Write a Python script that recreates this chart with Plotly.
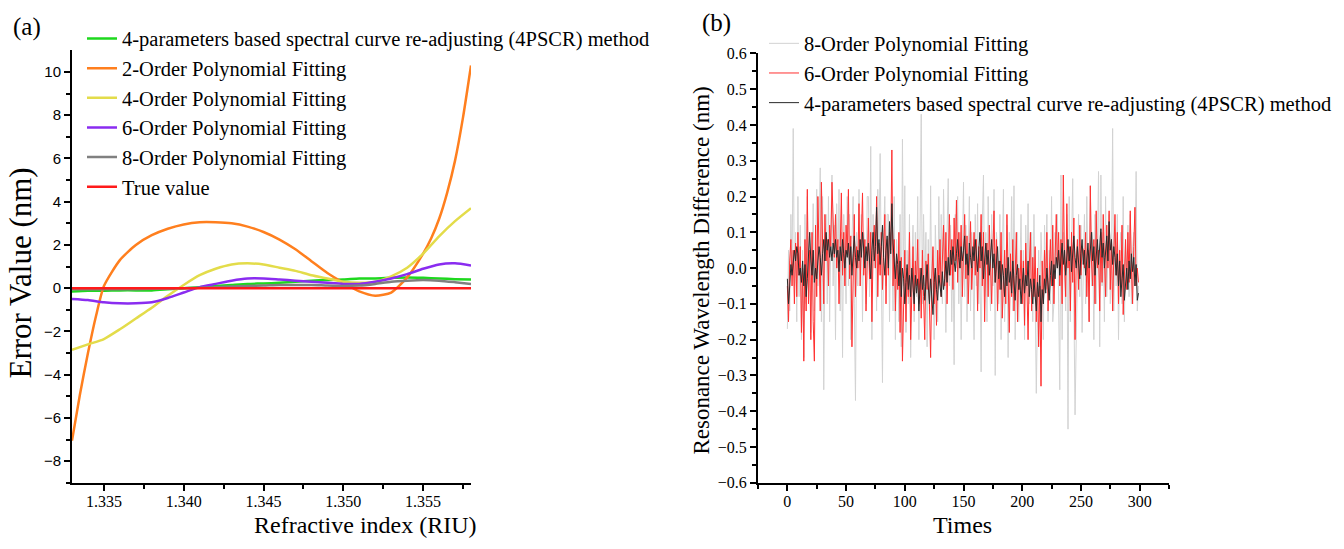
import plotly.graph_objects as go

# ---------------- Panel (a) data ----------------
ri = [1.333, 1.334, 1.335, 1.336, 1.337, 1.338, 1.339, 1.340, 1.341, 1.342, 1.343,
      1.344, 1.345, 1.346, 1.347, 1.348, 1.349, 1.350, 1.351, 1.352, 1.353, 1.354,
      1.355, 1.356, 1.357, 1.358]

err_4pscr = [-0.15, -0.12, -0.12, -0.10, -0.10, -0.10, -0.05, 0.00, 0.05, 0.10, 0.15,
             0.20, 0.22, 0.25, 0.30, 0.35, 0.38, 0.40, 0.45, 0.45, 0.48, 0.50,
             0.48, 0.45, 0.42, 0.40]
err_2order_x = [1.333, 1.3335, 1.334, 1.3345, 1.335, 1.336, 1.337, 1.338, 1.339,
                1.340, 1.341, 1.342, 1.343, 1.344, 1.345, 1.346, 1.347, 1.348, 1.349,
                1.350, 1.351, 1.352, 1.353, 1.354, 1.355, 1.3555, 1.356, 1.3565,
                1.357, 1.3575, 1.358]
err_2order = [-7.05, -4.9, -3.0, -1.3, 0.1, 1.3, 2.0, 2.45, 2.75,
              2.95, 3.05, 3.05, 3.0, 2.85, 2.6, 2.25, 1.8, 1.25, 0.7,
              0.25, -0.15, -0.35, -0.2, 0.5, 1.6, 2.3, 3.2, 4.4,
              5.9, 7.9, 10.3]
err_4order = [-2.85, -2.6, -2.35, -1.9, -1.4, -0.9, -0.35, 0.15, 0.6, 0.9, 1.1,
              1.15, 1.1, 0.95, 0.8, 0.6, 0.45, 0.3, 0.25, 0.3, 0.55, 0.95,
              1.6, 2.4, 3.1, 3.7]
err_6order = [-0.5, -0.55, -0.65, -0.7, -0.7, -0.65, -0.45, -0.2, 0.05, 0.2, 0.35,
              0.45, 0.45, 0.4, 0.35, 0.3, 0.25, 0.2, 0.2, 0.3, 0.45, 0.65,
              0.9, 1.1, 1.15, 1.05]
err_8order = [-0.05, -0.05, -0.05, -0.05, -0.05, -0.03, -0.02, 0.0, 0.02, 0.05, 0.08,
              0.1, 0.12, 0.15, 0.15, 0.15, 0.12, 0.1, 0.12, 0.2, 0.3, 0.35,
              0.38, 0.35, 0.28, 0.2]
err_true = [0.0] * len(ri)

# ---------------- Panel (b) data ----------------
times = list(range(300))

diff_8order = [
    -0.17, 0.05, -0.12, 0.15, 0.0, 0.39, -0.05, 0.1, -0.15, 0.2,
    -0.08, 0.12, -0.2, 0.05, -0.25, 0.15, -0.1, 0.2, -0.02, 0.1,
    -0.18, 0.08, 0.18, -0.12, 0.05, 0.22, -0.05, 0.1, 0.28, -0.15,
    0.2, -0.34, 0.05, 0.15, -0.1, 0.2, -0.15, 0.1, 0.26, -0.05,
    0.12, -0.2, 0.18, 0.0, 0.22, -0.12, 0.1, -0.25, 0.15, 0.05,
    -0.1, 0.2, -0.05, 0.15, -0.2, 0.08, 0.2, -0.1, -0.37, 0.1,
    -0.05, 0.22, 0.0, 0.15, -0.15, 0.1, 0.05, -0.1, 0.2, 0.2,
    -0.08, 0.34, -0.2, 0.15, 0.0, 0.1, -0.12, 0.22, 0.05, 0.32,
    -0.1, -0.32, 0.1, 0.2, -0.05, 0.15, 0.15, -0.15, 0.1, 0.05,
    -0.12, 0.2, -0.2, 0.08, 0.0, -0.15, 0.15, -0.22, 0.36, -0.05,
    0.23, -0.18, 0.05, -0.1, 0.15, -0.25, 0.0, 0.12, -0.15, 0.1,
    -0.08, 0.2, -0.2, 0.05, 0.43, -0.1, 0.15, -0.05, 0.1, -0.22,
    0.08, -0.12, 0.23, -0.1, 0.05, -0.2, 0.12, 0.0, -0.15, 0.2,
    -0.05, 0.15, -0.1, 0.22, 0.0, -0.18, 0.1, 0.25, -0.05, 0.12,
    -0.15, 0.08, -0.27, 0.15, 0.0, 0.2, -0.1, 0.1, -0.2, 0.05,
    0.24, -0.08, 0.12, -0.15, 0.05, 0.2, -0.12, 0.1, 0.0, -0.2,
    0.15, -0.05, 0.18, -0.1, 0.05, -0.29, 0.12, 0.26, -0.08, 0.1,
    -0.15, 0.2, 0.0, -0.12, 0.15, -0.05, 0.22, -0.3, 0.1, 0.05,
    -0.1, 0.15, -0.2, 0.05, 0.22, -0.15, 0.0, 0.12, -0.25, 0.1,
    -0.05, 0.2, -0.12, 0.23, -0.2, 0.05, 0.1, -0.15, 0.0, 0.15,
    -0.1, 0.05, -0.2, 0.12, -0.05, 0.18, -0.1, 0.0, 0.1, -0.15,
    0.15, -0.08, -0.35, -0.12, 0.05, -0.1, 0.1, 0.0, -0.2, 0.12,
    -0.05, 0.15, -0.15, 0.05, -0.1, 0.2, -0.15, -0.1, 0.1, 0.0,
    0.15, -0.1, -0.34, 0.26, -0.2, 0.1, 0.0, -0.12, 0.15, -0.45,
    0.2, -0.15, 0.05, 0.25, -0.1, -0.41, -0.2, 0.0, 0.15, -0.08,
    0.12, -0.18, 0.05, 0.15, -0.1, 0.2, 0.0, -0.15, 0.23, -0.05,
    0.1, -0.2, 0.15, -0.1, 0.05, 0.27, -0.22, 0.26, -0.05, 0.1,
    -0.15, 0.2, -0.08, 0.05, 0.15, -0.1, 0.0, 0.39, -0.12, 0.1,
    -0.05, 0.15, -0.2, 0.05, 0.1, -0.1, 0.2, -0.15, 0.05, 0.0,
    0.12, -0.08, 0.15, -0.1, 0.05, 0.1, -0.05, 0.27, -0.12, -0.05]

diff_6order = [
    -0.05, -0.15, 0.02, 0.08, -0.05, 0.05, -0.1, 0.07, -0.08, 0.1,
    -0.02, 0.06, -0.18, 0.0, -0.26, 0.08, -0.12, 0.22, -0.1, 0.05,
    -0.2, 0.1, -0.15, -0.26, 0.12, -0.08, 0.2, 0.0, -0.12, 0.24,
    0.05, -0.1, 0.15, 0.02, 0.08, -0.05, 0.12, 0.06, 0.24, 0.1,
    0.03, 0.15, 0.0, 0.08, -0.1, 0.05, 0.21, -0.02, 0.1, -0.05,
    0.12, 0.04, 0.22, -0.03, 0.09, -0.22, 0.02, 0.15, -0.08, 0.06,
    0.0, 0.18, -0.05, 0.1, 0.21, -0.02, 0.08, -0.12, 0.05, 0.14,
    -0.03, 0.1, -0.15, 0.05, 0.12, 0.0, 0.2, -0.08, 0.07, -0.02,
    0.1, -0.06, 0.05, 0.15, -0.1, 0.08, -0.02, 0.1, 0.05, 0.33,
    -0.05, 0.08, -0.12, 0.02, -0.06, 0.1, -0.18, 0.03, -0.26, -0.04,
    0.05, -0.15, 0.0, -0.08, 0.1, -0.2, -0.02, 0.06, -0.12, 0.02,
    -0.05, 0.08, -0.1, 0.0, -0.14, 0.05, -0.08, -0.2, 0.02, -0.06,
    0.04, -0.12, -0.25, -0.03, 0.06, -0.1, 0.0, -0.16, 0.05, -0.04,
    0.08, -0.08, 0.02, 0.12, -0.05, 0.1, -0.1, 0.04, 0.15, -0.02,
    0.08, -0.06, 0.14, 0.02, 0.19, -0.04, 0.1, 0.0, 0.12, -0.08,
    0.06, 0.15, -0.03, 0.09, -0.1, 0.05, 0.13, -0.06, 0.04, 0.1,
    -0.02, 0.08, -0.12, 0.06, 0.0, 0.15, -0.05, 0.1, -0.15, 0.03,
    0.07, -0.08, 0.12, 0.0, -0.1, 0.05, 0.16, -0.04, 0.08, -0.12,
    0.02, -0.06, 0.1, -0.14, 0.0, 0.05, -0.1, 0.15, -0.03, -0.18,
    0.04, -0.08, 0.08, -0.12, -0.02, 0.1, -0.15, 0.0, -0.06, 0.05,
    -0.1, 0.02, -0.16, 0.07, -0.05, -0.2, 0.0, 0.1, -0.12, 0.03,
    -0.08, 0.06, -0.15, 0.0, -0.22, -0.05, -0.33, 0.02, -0.1, 0.05,
    -0.06, 0.1, -0.12, 0.0, 0.08, -0.05, 0.12, -0.1, 0.04, 0.15,
    0.0, 0.1, -0.05, 0.08, -0.1, 0.26, 0.02, -0.08, 0.18, 0.0,
    0.06, -0.12, 0.1, -0.04, 0.14, -0.2, 0.02, 0.08, -0.06, 0.12,
    -0.02, 0.06, 0.05, 0.0, 0.1, -0.08, 0.05, -0.15, 0.23, 0.02,
    -0.05, 0.08, -0.1, 0.16, 0.0, 0.05, -0.12, 0.1, -0.04, 0.15,
    0.03, -0.08, 0.12, 0.0, 0.16, -0.06, 0.08, -0.12, 0.04, 0.15,
    -0.02, 0.1, -0.1, 0.05, -0.05, 0.12, -0.13, 0.02, 0.08, -0.06,
    0.1, -0.04, 0.16, 0.0, -0.1, 0.06, 0.17, -0.05, 0.0, -0.04]

diff_4pscr = [
    -0.03, -0.1, -0.05, 0.01, -0.02, 0.03, 0.05, 0.02, 0.06, 0.04,
    -0.02, 0.0, -0.04, 0.02, -0.05, 0.01, -0.08, -0.03, 0.03, 0.1,
    0.02, -0.02, 0.05, -0.04, 0.0, -0.03, 0.02, 0.06, 0.03, -0.02,
    0.04, 0.08, 0.02, 0.1, 0.05, 0.08, 0.03, 0.06, 0.02, 0.07,
    0.04, 0.08, 0.03, 0.05, -0.01, 0.06, 0.02, 0.08, 0.04, 0.0,
    0.05, 0.03, 0.07, 0.01, 0.06, -0.02, 0.04, 0.09, 0.03, 0.0,
    0.05, 0.02, 0.08, 0.03, 0.1, 0.04, 0.0, 0.06, 0.02, 0.07,
    0.03, -0.03, 0.05, 0.1, 0.02, 0.06, 0.17, 0.04, 0.08, 0.01,
    0.06, 0.12, 0.03, -0.02, 0.05, 0.09, 0.0, 0.13, 0.04, 0.18,
    0.07, 0.02, -0.03, 0.04, 0.01, -0.05, 0.02, -0.08, 0.0, -0.03,
    -0.1, -0.04, 0.01, -0.06, -0.02, -0.08, 0.0, -0.05, -0.1, -0.02,
    -0.07, -0.03, -0.12, -0.05, 0.0, -0.06, -0.02, -0.09, -0.04, 0.01,
    -0.05, -0.1, -0.03, -0.07, -0.13, -0.04, 0.0, -0.06, -0.09, -0.02,
    -0.05, -0.08, -0.01, -0.06, -0.03, 0.02, -0.04, 0.03, -0.02, 0.05,
    0.01, 0.06, 0.02, -0.01, 0.04, 0.08, 0.03, 0.0, 0.06, 0.02,
    0.05, 0.09, 0.01, 0.04, -0.02, 0.07, 0.03, 0.0, 0.06, 0.02,
    0.08, 0.03, -0.01, 0.05, 0.1, 0.02, 0.06, -0.03, 0.04, 0.07,
    0.01, 0.05, -0.02, 0.03, 0.08, 0.0, 0.04, -0.04, 0.02, 0.06,
    -0.03, 0.02, -0.06, 0.01, -0.02, -0.08, 0.0, -0.05, 0.03, -0.04,
    -0.01, -0.07, 0.02, -0.03, -0.09, -0.02, 0.01, -0.06, -0.03, -0.1,
    -0.04, 0.0, -0.07, -0.02, -0.05, 0.02, -0.08, -0.03, -0.06, -0.1,
    -0.03, -0.07, -0.12, -0.04, -0.08, -0.02, -0.15, -0.06, -0.1, -0.03,
    -0.07, 0.0, -0.04, -0.09, -0.02, 0.02, -0.05, 0.01, -0.03, 0.03,
    0.0, 0.05, -0.02, 0.04, 0.07, 0.01, 0.05, -0.02, 0.03, 0.08,
    0.02, 0.06, -0.01, 0.04, 0.09, 0.03, 0.0, 0.06, 0.02, -0.03,
    0.04, 0.08, 0.01, 0.05, -0.02, 0.03, 0.07, 0.0, 0.05, 0.1,
    0.02, 0.06, -0.02, 0.04, 0.08, 0.01, 0.05, 0.11, 0.03, 0.07,
    0.0, 0.04, 0.09, 0.02, 0.13, 0.05, 0.08, 0.01, 0.06, 0.03,
    -0.02, 0.04, -0.05, 0.02, -0.08, -0.03, 0.01, -0.09, -0.04, 0.0,
    -0.06, 0.02, -0.03, 0.04, -0.01, 0.03, -0.05, 0.01, -0.09, -0.07]

# ---------------- Figure ----------------
SERIF = "Liberation Serif, Times New Roman, serif"
SANS = "Liberation Sans, Arial, sans-serif"
W, H = 1344, 549

fig = go.Figure()

left_series = [
    ("4-parameters based spectral curve re-adjusting (4PSCR) method", ri, err_4pscr, "#1ed81e"),
    ("2-Order Polynomial Fitting", err_2order_x, err_2order, "#ff7f1e"),
    ("4-Order Polynomial Fitting", ri, err_4order, "#e3dc4a"),
    ("6-Order Polynomial Fitting", ri, err_6order, "#8a2cf0"),
    ("8-Order Polynomial Fitting", ri, err_8order, "#808080"),
    ("True value", ri, err_true, "#ff1a1a"),
]
for i, (name, xs, ys, col) in enumerate(left_series):
    fig.add_trace(go.Scatter(
        x=xs, y=ys, mode="lines", name=name,
        line=dict(color=col, width=2.5, shape="spline", smoothing=0.6),
        xaxis="x", yaxis="y", legend="legend", legendgroup="a%d" % i,
    ))

right_series = [
    ("8-Order Polynomial Fitting", diff_8order, "#d2d2d2"),
    ("6-Order Polynomial Fitting", diff_6order, "#ff3030"),
    ("4-parameters based spectral curve re-adjusting (4PSCR) method", diff_4pscr, "#2a2a2a"),
]
for i, (name, ys, col) in enumerate(right_series):
    fig.add_trace(go.Scatter(
        x=times, y=ys, mode="lines", name=name,
        line=dict(color=col, width=1),
        xaxis="x2", yaxis="y2", legend="legend2", legendgroup="b%d" % i,
    ))

def px(v):
    return v / W

def py(v):
    return 1 - v / H

axis_common = dict(
    showline=True, linecolor="black", linewidth=2, mirror=False,
    showgrid=False, zeroline=False, ticks="outside", ticklen=6, tickwidth=2,
    tickcolor="black",
)

fig.update_layout(
    width=W, height=H,
    margin=dict(l=0, r=0, t=0, b=0),
    paper_bgcolor="white", plot_bgcolor="white",
    xaxis=dict(
        domain=[px(72), px(471)], range=[1.333, 1.358],
        tickvals=[1.335, 1.340, 1.345, 1.350, 1.355], tickformat=".3f",
        minor=dict(ticks="outside", ticklen=4, tickwidth=2, tickcolor="black",
                   tickvals=[1.3375, 1.3425, 1.3475, 1.3525, 1.3575]),
        tickfont=dict(family=SERIF, size=16, color="black"),
        ticklabelstandoff=-3,
        anchor="y", **axis_common),
    yaxis=dict(
        domain=[py(490), py(43.7)], range=[-9, 11],
        tickvals=[-8, -6, -4, -2, 0, 2, 4, 6, 8, 10],
        minor=dict(ticks="outside", ticklen=4, tickwidth=2, tickcolor="black",
                   tickvals=[-9, -7, -5, -3, -1, 1, 3, 5, 7, 9]),
        tickfont=dict(family=SANS, size=15, color="black"),
        anchor="x", **axis_common),
    xaxis2=dict(
        domain=[px(758), px(1169)], range=[-25, 325],
        tickvals=[0, 50, 100, 150, 200, 250, 300],
        minor=dict(ticks="outside", ticklen=4, tickwidth=2, tickcolor="black",
                   tickvals=[-25, 25, 75, 125, 175, 225, 275, 325]),
        tickfont=dict(family=SERIF, size=16, color="black"),
        ticklabelstandoff=-3,
        anchor="y2", **axis_common),
    yaxis2=dict(
        domain=[py(490), py(46.8)], range=[-0.6, 0.6],
        tickvals=[-0.6, -0.5, -0.4, -0.3, -0.2, -0.1, 0.0, 0.1, 0.2, 0.3, 0.4, 0.5, 0.6],
        tickformat=".1f",
        minor=dict(ticks="outside", ticklen=4, tickwidth=2, tickcolor="black",
                   tickvals=[-0.55, -0.45, -0.35, -0.25, -0.15, -0.05, 0.05, 0.15, 0.25, 0.35, 0.45, 0.55]),
        tickfont=dict(family=SERIF, size=16, color="black"),
        anchor="x2", **axis_common),
    legend=dict(
        x=px(82), y=py(11), xanchor="left", yanchor="top",
        bgcolor="rgba(0,0,0,0)", borderwidth=0,
        font=dict(family=SERIF, size=20.5, color="black"),
        traceorder="grouped", tracegroupgap=0, itemwidth=30,
    ),
    legend2=dict(
        x=px(764), y=py(16), xanchor="left", yanchor="top",
        bgcolor="rgba(0,0,0,0)", borderwidth=0,
        font=dict(family=SERIF, size=20.5, color="black"),
        traceorder="grouped", tracegroupgap=0, itemwidth=30,
    ),
    showlegend=True,
)

annots = [
    dict(text="(a)", x=px(27), y=py(20), font=dict(family=SERIF, size=25)),
    dict(text="(b)", x=px(716), y=py(15), font=dict(family=SERIF, size=25)),
    dict(text="Error Value (nm)", x=px(21), y=py(274), textangle=-90,
         font=dict(family=SERIF, size=31)),
    dict(text="Resonance Wavelength Difference (nm)", x=px(702), y=py(271), textangle=-90,
         font=dict(family=SERIF, size=23)),
]
for a in annots:
    a.update(yanchor="middle")
annots += [
    dict(text="Refractive index (RIU)", x=px(366), y=0.0, yanchor="bottom",
         font=dict(family=SERIF, size=24)),
    dict(text="Times", x=px(962), y=0.0, yanchor="bottom", font=dict(family=SERIF, size=24)),
]
for a in annots:
    a.update(xref="paper", yref="paper", showarrow=False, xanchor="center")
    a["font"]["color"] = "black"
fig.update_layout(annotations=annots)

fig.write_html("out.html", config={"displayModeBar": False},
               post_script="document.body.style.margin='0';document.body.style.overflow='hidden';")
